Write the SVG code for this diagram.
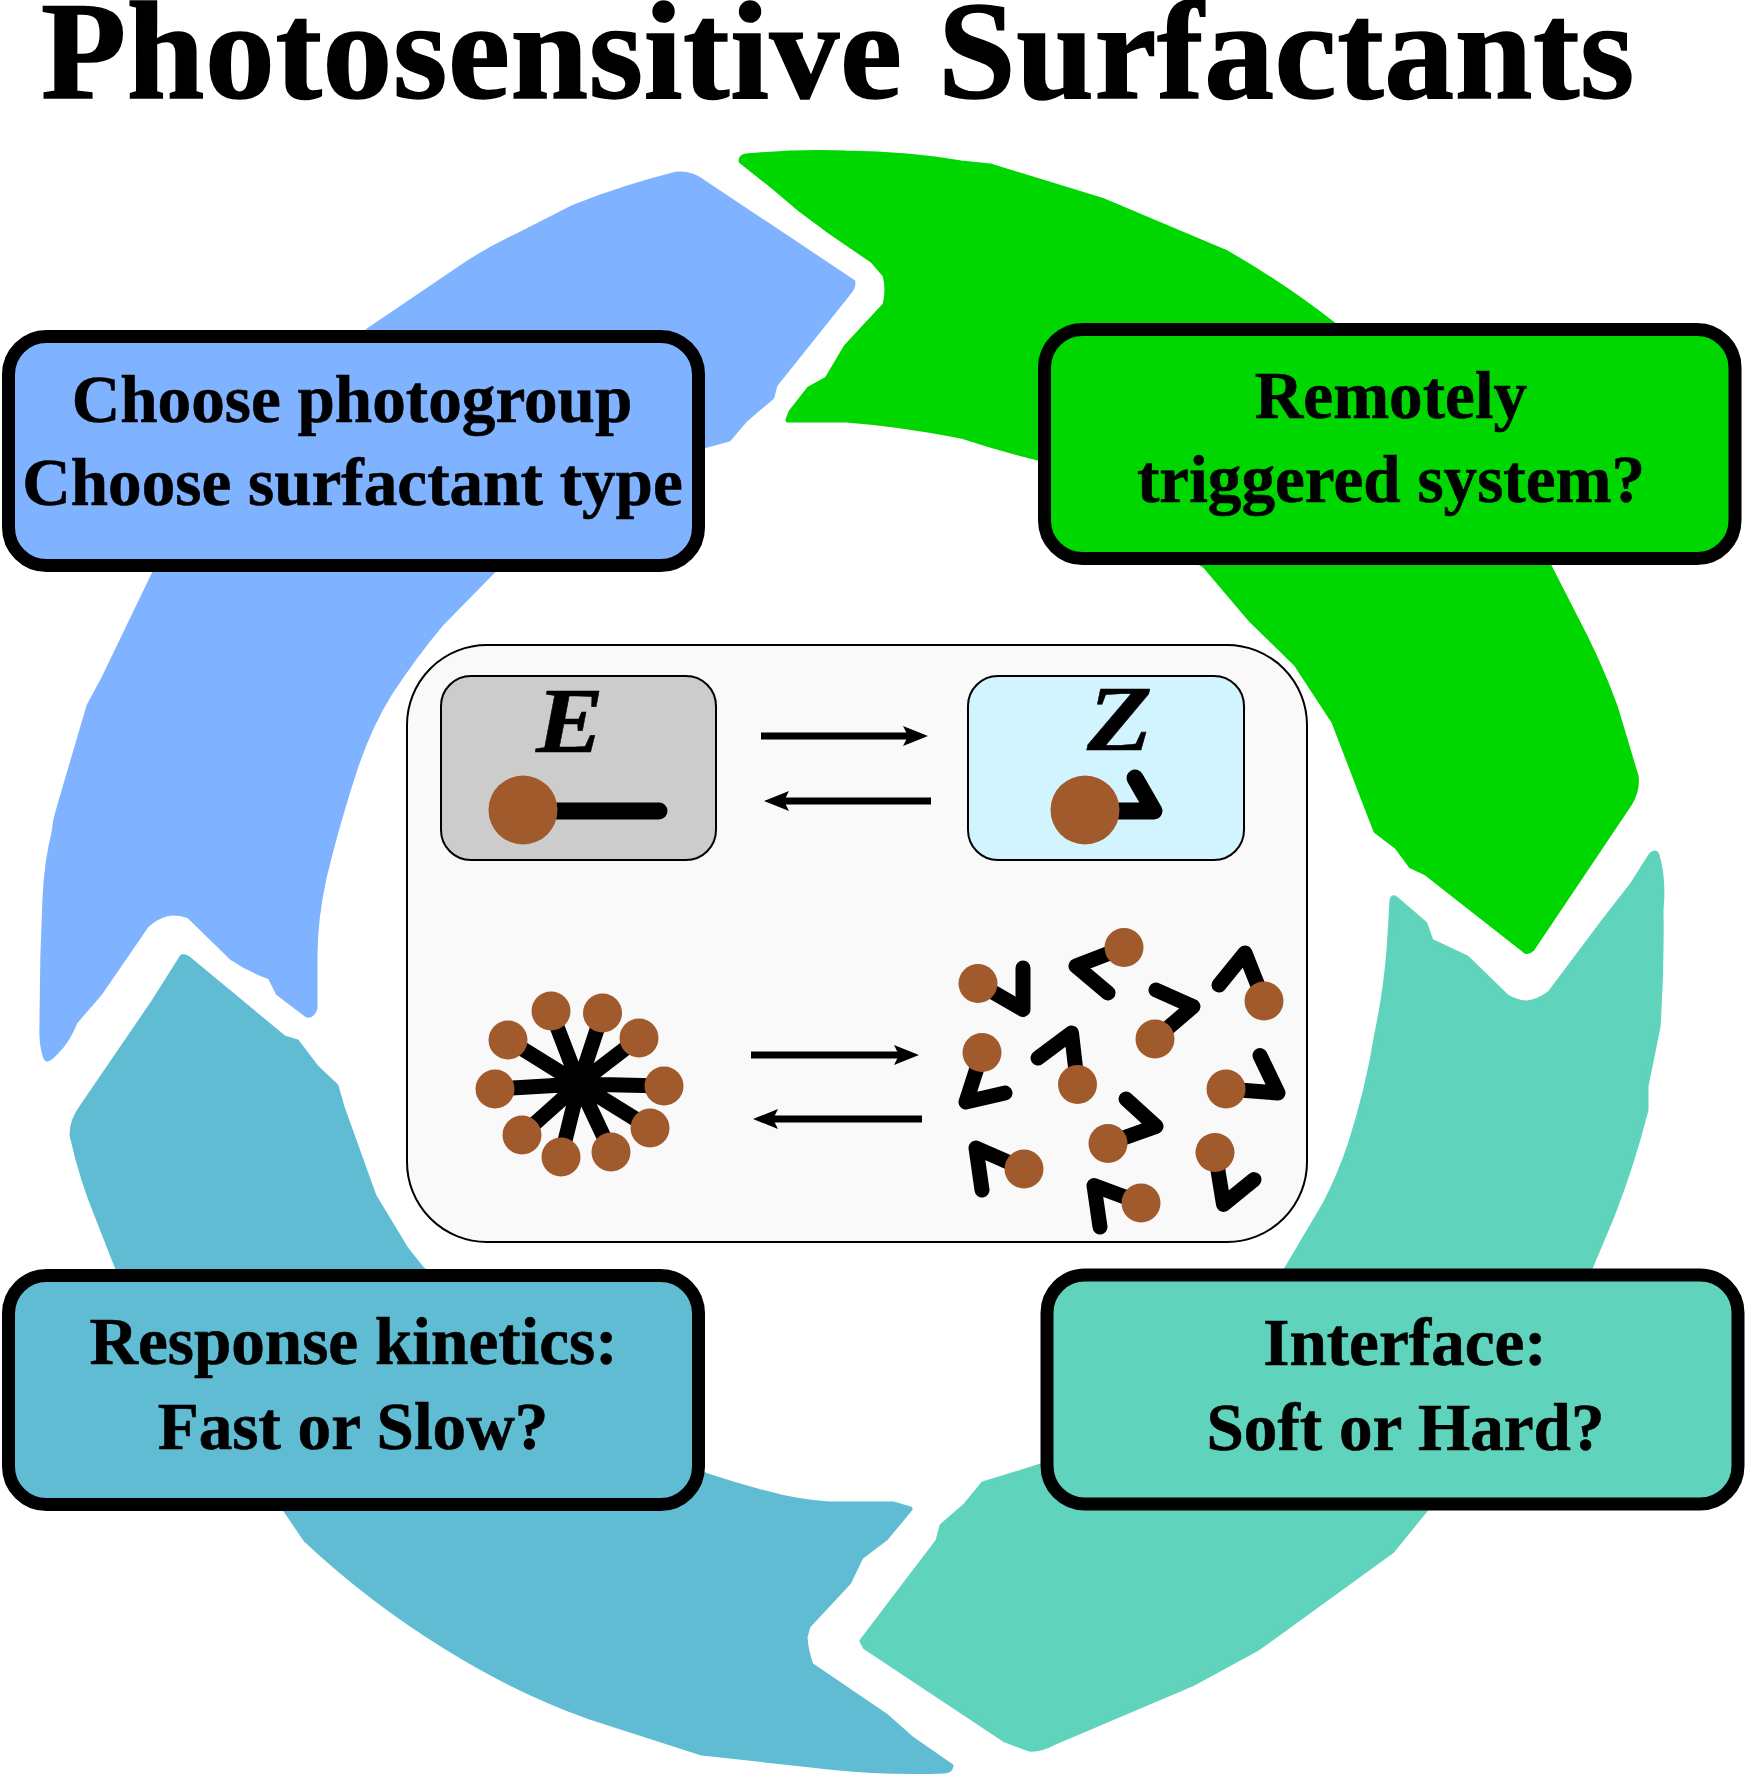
<svg xmlns="http://www.w3.org/2000/svg" width="1746" height="1776" viewBox="0 0 1746 1776">
<style>
text{font-family:"Liberation Serif","Times New Roman",serif;font-weight:bold;fill:#000;stroke:#000}
.lbl{font-size:67.2px;text-anchor:middle;stroke-width:.6}
.box{stroke:#000;stroke-width:13}
.seg{stroke-width:5;stroke-linejoin:round}
.b{fill:#80b3ff;stroke:#80b3ff}
.g{fill:#00d600;stroke:#00d600}
.t{fill:#5fd3bc;stroke:#5fd3bc}
.c{fill:#5fbcd3;stroke:#5fbcd3}
.head{fill:#a05a2c}
.tail{fill:none;stroke:#000;stroke-width:15;stroke-linecap:round;stroke-linejoin:round}
.big{stroke-width:17}
.ar{stroke:#000;stroke-width:7;fill:none}
.spoke{stroke:#000;stroke-width:15}
</style>
<rect width="1746" height="1776" fill="#fff"/>
<g id="title"><text x="838" y="97.5" font-size="139.5" letter-spacing=".65" text-anchor="middle" stroke-width="1.5">Photosensitive Surfactants</text></g>
<g id="segments">
<path id="seg-blue" class="seg b" d="M369 330L459 269Q490 248 519 235L574 207Q625 187 677 174Q692 173 703 182L853 282Q853 287 850 291L775 385L772 397L746 419L729 439L703 446L494 570L442 623Q415 655 390 693Q370 725 356 766Q338 820 324 878Q315 920 315 955L315 1008Q313 1016 307 1015L278 993L270 977Q250 970 232 958L189 916Q176 911 166 914Q155 917 146 926L100 993L75 1022Q68 1040 57 1051Q47 1062 46 1058Q41 1045 42 1025Q42 960 45 897Q47 860 54 833Q55 820 59 808L89 706L103 680L155 572Z"/>
<path id="seg-green" class="seg g" d="M741 161Q741 157 746 156Q800 151 846 153Q910 154 961 163L990 166L1104 201L1225 252Q1280 283 1334 325L1549 566L1575 617Q1598 660 1615 706L1636 776Q1638 790 1630 803L1532 949Q1527 954 1523 949L1426 873L1411 866L1397 847L1376 831L1367 808L1334 722L1296 664L1250 619L1205 566L1038 458Q1000 449 961 436Q900 424 846 420L788 420L791 412L809 389L827 379L846 347L885 305Q889 290 885 275L873 261L832 233L801 210L775 188Z"/>
<path id="seg-teal" class="seg t" d="M1396 899L1425 924L1431 941L1467 958L1507 997Q1517 1003 1527 1003Q1538 1002 1550 993L1604 921L1632 885L1651 855Q1655 851 1657 855Q1664 880 1661 909Q1662 970 1658 1027L1646 1086L1646 1110Q1632 1165 1612 1216L1591 1266L1427 1508L1392 1551L1258 1648L1192 1684L1053 1743Q1040 1750 1029 1749L1005 1740L865 1647L862 1641L938 1541L942 1526L965 1506L983 1484L1041 1466L1286 1270L1325 1204Q1340 1175 1350 1145Q1368 1090 1377 1033Q1386 990 1389 950Q1391 920 1392 900Q1393 896 1396 899Z"/>
<path id="seg-cyan" class="seg c" d="M182 957Q186 956 191 961L284 1038L297 1042L316 1067L336 1086L342 1107L374 1196L406 1249L422 1269L600 1400L705 1475Q735 1485 765 1493Q797 1502 829 1504L893 1504L910 1509L886 1538L861 1557L849 1582L808 1626L805 1637Q806 1652 811 1665L886 1716L912 1739L951 1766Q950 1771 944 1771Q885 1773 829 1767L702 1753L587 1716Q515 1690 446 1647Q370 1600 306 1540L287 1512L118 1269L98 1218Q82 1180 72 1135Q72 1120 82 1107L153 1003Z"/>
</g>
<g id="box-blue"><rect class="box" x="8.5" y="336.5" width="690" height="229" rx="38" fill="#80b3ff"/><text class="lbl" x="352" y="422">Choose photogroup</text><text class="lbl" x="352.5" y="505">Choose surfactant type</text></g>
<g id="box-green"><rect class="box" x="1044.5" y="329.5" width="690.5" height="229" rx="38" fill="#00d600"/><text class="lbl" x="1391" y="418">Remotely</text><text class="lbl" x="1391" y="502">triggered system?</text></g>
<g id="box-cyan"><rect class="box" x="8.5" y="1275.5" width="690" height="229" rx="38" fill="#5fbcd3"/><text class="lbl" x="353.5" y="1364">Response kinetics:</text><text class="lbl" x="353" y="1449">Fast or Slow?</text></g>
<g id="box-teal"><rect class="box" x="1047" y="1275" width="691" height="229" rx="38" fill="#5fd3bc"/><text class="lbl" x="1405" y="1365">Interface:</text><text class="lbl" x="1405.5" y="1449.5">Soft or Hard?</text></g>
<g id="panel"><rect x="407" y="645" width="900" height="597" rx="80" fill="#f9f9f9" stroke="#000" stroke-width="2"/></g>
<g id="state-e"><rect x="441" y="676" width="275" height="184" rx="30" fill="#ccc" stroke="#000" stroke-width="2"/><text transform="translate(536 752) scale(1.08 1)" font-size="94" font-style="italic" stroke-width=".5">E</text><path class="tail big" d="M540 811H659"/><circle class="head" cx="523" cy="810" r="34.5"/></g>
<g id="state-z"><rect x="968" y="676" width="276" height="184" rx="30" fill="#d2f4ff" stroke="#000" stroke-width="2"/><text transform="translate(1087 750) scale(1.14 1)" font-size="94" font-style="italic" stroke-width=".5">Z</text><path class="tail big" d="M1105 811H1154L1135 778"/><circle class="head" cx="1085" cy="810" r="34.5"/></g>
<g id="micelle">
<path class="spoke" d="M579 1084L495 1089M579 1084L508 1040M579 1084L551 1011M579 1084L602.5 1013M579 1084L639 1038M579 1084L664 1086M579 1084L650 1128M579 1084L611 1152M579 1084L561 1157M579 1084L522 1135"/>
<g class="head"><circle cx="495" cy="1089" r="19.5"/><circle cx="508" cy="1040" r="19.5"/><circle cx="551" cy="1011" r="19.5"/><circle cx="602.5" cy="1013" r="19.5"/><circle cx="639" cy="1038" r="19.5"/><circle cx="664" cy="1086" r="19.5"/><circle cx="650" cy="1128" r="19.5"/><circle cx="611" cy="1152" r="19.5"/><circle cx="561" cy="1157" r="19.5"/><circle cx="522" cy="1135" r="19.5"/></g>
</g>
<g id="monomers">
<path class="tail" d="M978 983.5L1023 1009.5L1023 968M1124 947.5L1076 966L1108 993M1264 1001L1245 953L1219 985M1155 1039L1193 1006.5L1156 990M982 1052.6L966 1102L1005 1093M1077.5 1084.5L1071.5 1033L1038 1058M1226 1089L1278 1093L1260 1055.5M1108 1143.5L1156 1126.4L1126 1099M1215 1152.4L1223.5 1204.4L1254 1179.6M1024 1169L976 1148L982 1190M1141 1203L1094 1185.5L1100 1227"/>
<g class="head"><circle cx="978" cy="983.5" r="19.5"/><circle cx="1124" cy="947.5" r="19.5"/><circle cx="1264" cy="1001" r="19.5"/><circle cx="1155" cy="1039" r="19.5"/><circle cx="982" cy="1052.6" r="19.5"/><circle cx="1077.5" cy="1084.5" r="19.5"/><circle cx="1226" cy="1089" r="19.5"/><circle cx="1108" cy="1143.5" r="19.5"/><circle cx="1215" cy="1152.4" r="19.5"/><circle cx="1024" cy="1169" r="19.5"/><circle cx="1141" cy="1203" r="19.5"/></g>
</g>
<g id="connectors">
<path class="ar" d="M761 736H912M931 801H780M751 1055H902M922 1119H770"/>
<path d="M928 736L903 726L908 736L903 746ZM764 801L789 791L784 801L789 811ZM919 1055L894 1045L899 1055L894 1065ZM753 1119L778 1109L773 1119L778 1129Z"/>
</g>
</svg>
